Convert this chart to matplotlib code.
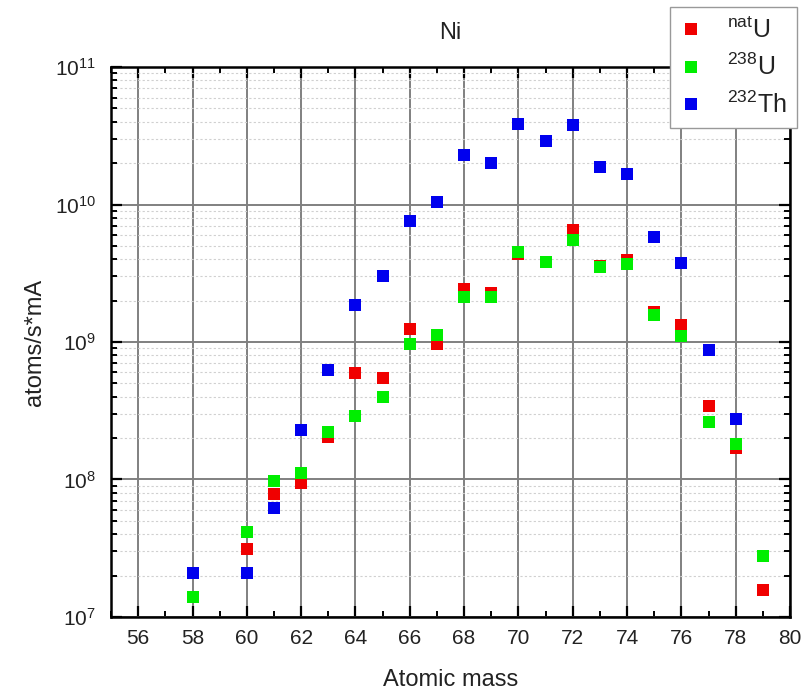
import matplotlib
matplotlib.use("Agg")
import matplotlib.pyplot as plt
from matplotlib.ticker import LogLocator, MultipleLocator, NullFormatter

plt.rcParams['font.family'] = ['Liberation Sans', 'DejaVu Sans']
plt.rcParams['mathtext.fontset'] = 'custom'
plt.rcParams['mathtext.rm'] = 'Liberation Sans'
plt.rcParams['mathtext.it'] = 'Liberation Sans:italic'
plt.rcParams['mathtext.bf'] = 'Liberation Sans:bold'

# ---- data ----
natU_mass = [60, 61, 62, 63, 64, 65, 66, 67, 68, 69, 70, 71, 72, 73, 74, 75, 76, 77, 78, 79]
natU_vals = [3.14e7, 7.8e7, 9.4e7, 2.03e8, 5.99e8, 5.45e8, 1.24e9, 9.6e8, 2.44e9, 2.29e9,
             4.36e9, 3.8e9, 6.5e9, 3.6e9, 3.95e9, 1.65e9, 1.32e9, 3.44e8, 1.69e8, 1.57e7]

U238_mass = [58, 60, 61, 62, 63, 64, 65, 66, 67, 68, 69, 70, 71, 72, 73, 74, 75, 76, 77, 78, 79]
U238_vals = [1.4e7, 4.17e7, 9.76e7, 1.11e8, 2.23e8, 2.9e8, 4.0e8, 9.7e8, 1.12e9, 2.12e9, 2.13e9,
             4.5e9, 3.84e9, 5.5e9, 3.53e9, 3.67e9, 1.56e9, 1.11e9, 2.63e8, 1.81e8, 2.78e7]

Th232_mass = [58, 60, 61, 62, 63, 64, 65, 66, 67, 68, 69, 70, 71, 72, 73, 74, 75, 76, 77, 78]
Th232_vals = [2.08e7, 2.08e7, 6.24e7, 2.29e8, 6.25e8, 1.86e9, 3.03e9, 7.6e9, 1.05e10, 2.3e10,
              2.0e10, 3.85e10, 2.9e10, 3.8e10, 1.87e10, 1.67e10, 5.8e9, 3.73e9, 8.75e8, 2.74e8]

series_labels = [r'$^{\mathrm{nat}}$U', r'$^{238}$U', r'$^{232}$Th']
title = 'Ni'
xlabel = 'Atomic mass'
ylabel = 'atoms/s*mA'

fig = plt.figure(figsize=(8.11, 6.93), dpi=100)
ax = fig.add_axes([0.1369, 0.1097, 0.9741 - 0.1369, 0.9033 - 0.1097])

colors = ['#f00000', '#00ee00', '#0000ee']
for xs, ys, c, lab in zip([natU_mass, U238_mass, Th232_mass],
                          [natU_vals, U238_vals, Th232_vals], colors, series_labels):
    ax.plot(xs, ys, linestyle='none', marker='s', markersize=9, color=c,
            markeredgewidth=0, label=lab, zorder=3)

ax.set_yscale('log')
ax.set_xlim(55, 80)
ax.set_ylim(1e7, 1e11)
ax.xaxis.set_major_locator(MultipleLocator(2))
ax.xaxis.set_minor_locator(MultipleLocator(1))
ax.yaxis.set_major_locator(LogLocator(base=10, numticks=10))
ax.yaxis.set_minor_locator(LogLocator(base=10, subs=range(2, 10), numticks=50))
ax.yaxis.set_minor_formatter(NullFormatter())

ax.grid(which='major', axis='both', color='#808080', linewidth=1.4, zorder=0)
ax.grid(which='minor', axis='y', color='#d0d0d0', linewidth=0.8, linestyle=(0, (2, 2)), zorder=0)
ax.set_axisbelow(True)

ax.tick_params(which='both', direction='in', top=True, right=True, colors='black', labelcolor='#222222')
ax.tick_params(which='major', length=8, width=1.6, labelsize=15)
ax.tick_params(axis='x', which='major', pad=9)
ax.tick_params(axis='y', which='major', pad=11)
ax.tick_params(which='minor', length=4.5, width=1.4)
for s in ax.spines.values():
    s.set_linewidth(1.8)

ax.set_title(title, fontsize=17, pad=20, color='#222222')
ax.set_xlabel(xlabel, fontsize=17, labelpad=15, color='#222222')
ax.set_ylabel(ylabel, fontsize=17, labelpad=6, color='#222222')

leg = fig.legend(loc='upper right', bbox_to_anchor=(0.983, 0.99), bbox_transform=fig.transFigure,
                 fontsize=18, fancybox=False, framealpha=1, edgecolor='#999999',
                 handlelength=0.9, handletextpad=1.0, labelspacing=0.45, borderpad=0.4,
                 borderaxespad=0)
leg.get_frame().set_linewidth(1.0)
for t in leg.get_texts():
    t.set_color('#222222')

fig.savefig('out.png', dpi=100)
